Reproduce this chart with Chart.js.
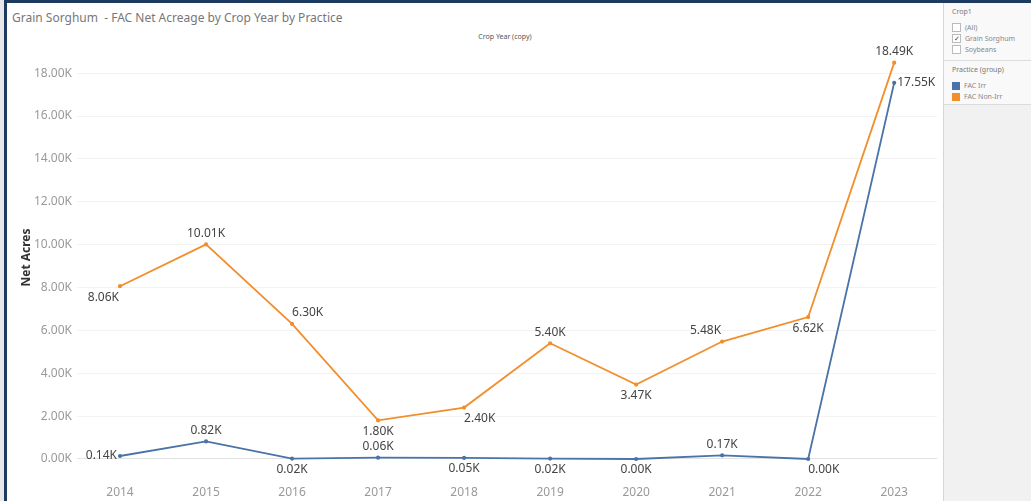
<!DOCTYPE html>
<html>
<head>
<meta charset="utf-8">
<script src="https://cdn.jsdelivr.net/npm/chart.js@4/dist/chart.umd.min.js"></script>
<style>
  body { margin: 0; width: 1031px; height: 501px; overflow: hidden; background: #e7e7ea; font-family: "Noto Sans", sans-serif; }
  #frame { position: absolute; left: 4px; top: 0; width: 1027px; height: 501px; box-sizing: border-box;
           border-top: 3px solid #1d3a60; border-left: 3px solid #1d3a60; background: #fff; }
  #title { position: absolute; left: 12px; top: 9px; font-size: 12px; color: #777; white-space: nowrap; }
  #header { position: absolute; left: 455px; width: 100px; top: 32px; text-align: center; font-size: 7px; color: #555; }
  #chartBox { position: absolute; left: 6px; top: 4px; width: 937px; height: 497px; }
  #panel { position: absolute; left: 943px; top: 3px; width: 88px; height: 498px; background: #f1f1f1; border-left: 1px solid #d6d6d6; }
  .box { background: #f9f9f9; border-bottom: 1px solid #dcdcdc; padding: 4px 0 4px 8px; }
  .head { font-size: 7px; color: #777; margin-bottom: 6px; }
  .row { font-size: 7px; color: #888; height: 11px; display: flex; align-items: center; }
  .cb { width: 7px; height: 7px; border: 1px solid #bbb; background: #fff; margin-right: 4px; font-size: 7px; line-height: 7px; text-align: center; color: #444; }
  .sw { width: 8px; height: 8px; margin-right: 4px; }
</style>
</head>
<body>
<div id="frame"></div>
<div id="title">Grain Sorghum &nbsp;- FAC Net Acreage by Crop Year by Practice</div>
<div id="header">Crop Year (copy)</div>
<div id="chartBox"><canvas id="myChart"></canvas></div>
<div id="panel">
  <div class="box" style="height:49px">
    <div class="head">Crop1</div>
    <div class="row"><span class="cb"></span>(All)</div>
    <div class="row"><span class="cb">✓</span>Grain Sorghum</div>
    <div class="row"><span class="cb"></span>Soybeans</div>
  </div>
  <div class="box" style="height:35px">
    <div class="head">Practice (group)</div>
    <div class="row"><span class="sw" style="background:#4a74a8"></span>FAC Irr</div>
    <div class="row"><span class="sw" style="background:#f28e2b"></span>FAC Non-Irr</div>
  </div>
</div>
<script>
// Datos
var anios = ['2014', '2015', '2016', '2017', '2018', '2019', '2020', '2021', '2022', '2023'];
var facIrr = [140, 820, 20, 60, 50, 20, 0, 170, 0, 17550];
var facNonIrr = [8060, 10010, 6300, 1800, 2400, 5400, 3470, 5480, 6620, 18490];
var ticksY = [0, 2000, 4000, 6000, 8000, 10000, 12000, 14000, 16000, 18000];

// Donde va cada etiqueta respecto al punto
var posIrr = ['l', 'a', 'b', 'a', 'b', 'b', 'b', 'a', 'br', 'r'];
var posNonIrr = ['bl', 'a', 'ar', 'b', 'br', 'a', 'b', 'al', 'b', 'a'];

function formatoK(v) {
    return (v / 1000).toFixed(2) + 'K';
}

// Plugin para dibujar las etiquetas de cada punto
var etiquetas = {
    id: 'etiquetas',
    afterDatasetsDraw: function(chart) {
        var ctx = chart.ctx;
        ctx.save();
        ctx.font = '12px "Noto Sans"';
        ctx.fillStyle = '#444';
        chart.data.datasets.forEach(function(ds, di) {
            var meta = chart.getDatasetMeta(di);
            var pos = di === 0 ? posIrr : posNonIrr;
            meta.data.forEach(function(p, i) {
                var txt = formatoK(ds.data[i]);
                var x = p.x, y = p.y;
                var code = pos[i];
                ctx.textBaseline = 'middle';
                ctx.textAlign = 'center';
                if (code.indexOf('a') >= 0) y -= 11;
                if (code.indexOf('b') >= 0) y += 11;
                if (code === 'l') { ctx.textAlign = 'right'; x -= 3; }
                else if (code === 'r') { ctx.textAlign = 'left'; x += 3; }
                else if (code.indexOf('l') >= 0) { ctx.textAlign = 'right'; x -= 1; }
                else if (code.indexOf('r') >= 0) { ctx.textAlign = 'left'; }
                ctx.fillText(txt, x, y);
            });
        });
        ctx.restore();
    }
};

var ctx1 = document.getElementById('myChart').getContext('2d');
var myChart = new Chart(ctx1, {
    type: 'line',
    data: {
        labels: anios,
        datasets: [{
            label: 'FAC Irr',
            data: facIrr,
            borderColor: '#4a74a8',
            backgroundColor: '#4a74a8',
            borderWidth: 1.8,
            pointRadius: 1.2,
            tension: 0
        }, {
            label: 'FAC Non-Irr',
            data: facNonIrr,
            borderColor: '#f28e2b',
            backgroundColor: '#f28e2b',
            borderWidth: 1.8,
            pointRadius: 1.2,
            tension: 0
        }]
    },
    options: {
        responsive: true,
        maintainAspectRatio: false,
        animation: false,
        layout: { padding: { top: 37, right: 4, left: 0, bottom: 0 } },
        plugins: {
            legend: { display: false },
            tooltip: { enabled: false }
        },
        scales: {
            x: {
                offset: true,
                grid: { display: false },
                border: { display: false },
                ticks: { color: '#999', font: { family: 'Noto Sans', size: 12 }, padding: 3, maxRotation: 0 },
                afterFit: function(s) { s.height = 27; }
            },
            y: {
                min: -700,
                max: 19500,
                afterBuildTicks: function(s) {
                    s.ticks = ticksY.map(function(v) { return { value: v }; });
                },
                grid: {
                    drawTicks: false,
                    color: function(c) { return c.tick && c.tick.value === 0 ? '#e2e2e2' : '#f3f3f3'; }
                },
                border: { display: false },
                ticks: {
                    color: '#999',
                    font: { family: 'Noto Sans', size: 12 },
                    padding: 5,
                    callback: function(v) { return formatoK(v); }
                },
                title: {
                    display: true,
                    text: 'Net Acres',
                    color: '#333',
                    font: { family: 'Noto Sans', size: 12, weight: 'bold' },
                    padding: { top: 13, bottom: 0 }
                },
                afterFit: function(s) { s.width = 71; }
            }
        }
    },
    plugins: [etiquetas]
});
</script>
</body>
</html>
